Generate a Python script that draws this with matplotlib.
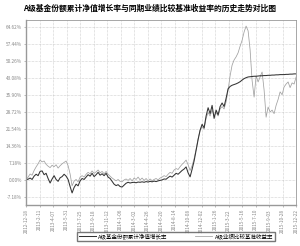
import matplotlib
matplotlib.use('Agg')
import matplotlib.pyplot as plt

plt.rcParams['font.family'] = ['Noto Sans CJK SC', 'DejaVu Sans']

# A级基金份额累计净值增长率 (%), readings taken along the chart
nav_growth = [0, 0.3, 0.8, 0.2, 1.6, 2.4, 1.8, 3.6, 3.8, 2.2,
              2.8, 0.6, -1.3, 0.4, 1.8, 0.2, -0.6, 0.9, 1.4, 2.4,
              1.6, 0.2, -2.8, -5.5, -3.2, -1.8, -2.5, -0.4, 0.6, 0.2,
              1.2, 2.2, 1.6, 2.8, 1.4, 2.2, 3.2, 2.0, 2.6, 1.8,
              2.8, 1.2, 0.6, -0.6, -1.8, -2.4, -2.0, -2.8, -3.0, -2.2,
              -1.4, -1.0, -1.3, -1.1, -1.0, -1.2, -0.9, -1.0, -0.8, -1.0,
              -0.7, -0.9, -0.6, -0.8, -0.5, -0.7, -0.4, -0.2, 0.0, 0.4,
              0.3, 1.0, 1.6, 1.2, 2.0, 2.8, 2.4, 3.2, 4.0, 4.6,
              5.5, 3.0, 1.3, 4.5, 8.0, 12.5, 17.0, 21.0, 23.5, 22.0,
              27.0, 30.5, 28.0, 31.5, 26.0, 29.5, 27.5, 31.0, 32.5, 31.0,
              34.5, 38.5, 39.5, 40.0, 40.3, 40.6, 41.0, 41.5, 42.2, 42.8,
              43.2, 43.5, 43.6, 43.7, 43.8, 43.8, 43.9, 44.0, 44.0, 44.1,
              44.1, 44.2, 44.2, 44.3, 44.3, 44.4, 44.4, 44.5, 44.5, 44.5,
              44.6, 44.6, 44.7, 44.7, 44.8, 44.8]

# A级业绩比较基准收益率 (%)
bench_return = [0, 1.2, 2.5, 2.0, 4.0, 5.5, 6.8, 8.4, 7.6, 8.0,
                6.6, 5.8, 5.2, 6.2, 5.6, 6.4, 5.0, 6.0, 6.8, 7.4,
                8.0, 6.0, 2.5, -2.5, -0.5, 0.2, -0.8, 1.2, 1.8, 1.2,
                2.4, 3.2, 2.6, 3.8, 2.8, 3.4, 4.2, 3.0, 3.6, 2.6,
                3.6, 2.4, 1.6, 0.8, 0.2, -0.4, 0.2, -0.6, -0.8, 0.0,
                0.4, -0.2, 0.6, -0.4, 0.8, 0.2, 1.2, 0.0, 0.8, -0.2,
                0.6, -0.4, 0.4, -0.3, 0.2, 0.6, 0.0, 0.8, 1.2, 1.8,
                1.4, 2.4, 3.2, 2.8, 4.2, 4.8, 4.4, 5.6, 6.6, 7.4,
                8.4, 6.4, 4.0, 6.0, 9.0, 13.0, 17.5, 21.0, 22.5, 21.5,
                26.0, 28.5, 27.0, 29.5, 27.0, 28.5, 27.0, 30.0, 31.0, 30.0,
                33.0, 38.0, 44.0, 48.5, 50.7, 52.0, 53.7, 56.5, 59.0, 62.5,
                65.0, 63.0, 55.0, 42.0, 35.0, 44.0, 41.4, 43.5, 45.6, 38.0,
                26.5, 30.8, 28.7, 29.5, 28.0, 31.5, 34.0, 37.2, 36.0, 39.3,
                40.5, 41.4, 39.0, 41.0, 40.5, 43.5]

date_labels = ['2012-12-18', '2013-2-11', '2013-4-07', '2013-5-31', '2013-7-25',
               '2013-9-18', '2013-11-12', '2014-1-06', '2014-3-02', '2014-4-26',
               '2014-6-20', '2014-8-14', '2014-10-08', '2014-12-02', '2015-1-26',
               '2015-3-22', '2015-5-16', '2015-7-10', '2015-9-03', '2015-10-28',
               '2015-12-22']

y_ticks = [-7.18, 0.00, 7.18, 14.36, 21.54, 28.72, 35.90, 43.08, 50.26, 57.44, 64.62]

fig = plt.figure(figsize=(3.0, 2.46), dpi=100)
ax = fig.add_axes([0.087, 0.167, 0.9, 0.752])

x = list(range(len(nav_growth)))
ax.plot(x, bench_return, color='#a0a0a0', lw=0.55, label='A级业绩比较基准收益率')
ax.plot(x, nav_growth, color='#333333', lw=0.75, label='A级基金份额累计净值增长率')

n_last = len(nav_growth) - 1
ax.set_xlim(0, n_last)
ax.set_ylim(-10.56, 67.6)

step = n_last / (len(date_labels) - 1)
ax.set_xticks([i * step for i in range(len(date_labels))])
ax.set_xticklabels(date_labels, rotation=90, fontsize=3.4, color='#555555')
ax.set_yticks(y_ticks)
ax.set_yticklabels(['%.2f%%' % v for v in y_ticks], fontsize=3.4, color='#777777')
ax.tick_params(length=1.5, width=0.4, pad=1.5, colors='#888888')

ax.grid(True, linestyle=(0, (1, 1.5)), color='#aaaaaa', lw=0.4)
for side in ['left', 'bottom', 'right', 'top']:
    ax.spines[side].set_color('#999999')
    ax.spines[side].set_linewidth(0.6)
ax.spines['left'].set_linewidth(1.0)
ax.spines['bottom'].set_linewidth(1.0)

fig.suptitle('A级基金份额累计净值增长率与同期业绩比较基准收益率的历史走势对比图',
             fontsize=5.6, fontweight='bold', y=0.985)

handles, labels = ax.get_legend_handles_labels()
fig.legend(handles[::-1], labels[::-1], loc='center', ncol=2,
           bbox_to_anchor=(0.587, 0.04), fontsize=4.0, frameon=True,
           fancybox=False, edgecolor='#555555', handlelength=3.0,
           columnspacing=5.0, borderpad=0.3, handletextpad=0.5)

fig.savefig('out.png', dpi=100)
